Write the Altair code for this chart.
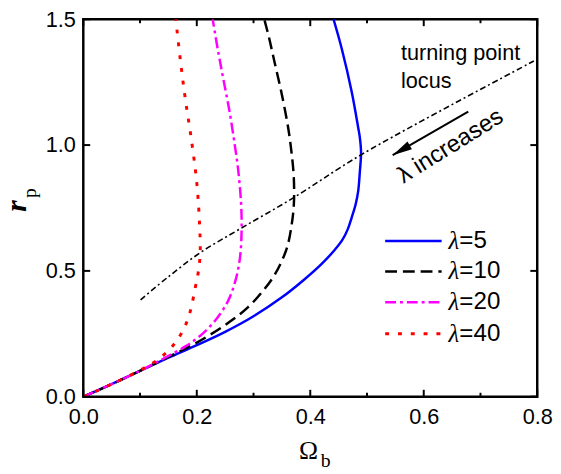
import altair as alt
import pandas as pd

# ---- data ----
x_l5 = [0, 0.05, 0.1, 0.15, 0.2, 0.25, 0.3, 0.35, 0.389, 0.421, 0.441, 0.456, 0.466, 0.473, 0.48, 0.4844, 0.4874, 0.4895, 0.4874, 0.4845, 0.473, 0.4556, 0.441]
y_l5 = [0, 0.05, 0.103, 0.155, 0.205, 0.258, 0.32, 0.395, 0.465, 0.53, 0.578, 0.621, 0.665, 0.712, 0.765, 0.816, 0.8945, 0.97, 1.03, 1.069, 1.212, 1.382, 1.5]

x_l10 = [0, 0.05, 0.1, 0.15, 0.2, 0.25, 0.29, 0.32, 0.336, 0.35, 0.36, 0.367, 0.371, 0.371, 0.367, 0.361, 0.35, 0.337, 0.327, 0.319]
y_l10 = [0, 0.05, 0.103, 0.158, 0.215, 0.285, 0.355, 0.43, 0.48, 0.54, 0.6, 0.68, 0.76, 0.87, 0.97, 1.07, 1.2, 1.33, 1.43, 1.5]

x_l20 = [0, 0.05, 0.1, 0.14, 0.18, 0.21, 0.235, 0.255, 0.268, 0.276, 0.279, 0.278, 0.273, 0.267, 0.258, 0.247, 0.237, 0.228]
y_l20 = [0, 0.05, 0.103, 0.15, 0.2, 0.25, 0.31, 0.38, 0.46, 0.55, 0.66, 0.77, 0.9, 1.0, 1.13, 1.26, 1.38, 1.5]

x_l40 = [0, 0.05, 0.1, 0.13, 0.155, 0.175, 0.188, 0.197, 0.203, 0.206, 0.205, 0.2, 0.19, 0.18, 0.172, 0.163]
y_l40 = [0, 0.05, 0.105, 0.145, 0.195, 0.26, 0.335, 0.43, 0.5, 0.57, 0.68, 0.85, 1.03, 1.18, 1.32, 1.5]

x_locus = [0.101, 0.149, 0.2065, 0.277, 0.3715, 0.49, 0.794]
y_locus = [0.385, 0.475, 0.573, 0.668, 0.792, 0.962, 1.334]

legend_labels = ["=5", "=10", "=20", "=40"]
x_ticks_major = [0, 0.2, 0.4, 0.6, 0.8]
x_ticks_minor = [0.1, 0.3, 0.5, 0.7]
y_ticks_major = [0, 0.5, 1.0, 1.5]

W, H = 460.6, 383

FONT = "Liberation Sans"
SERIF = "Liberation Serif"

xscale = alt.Scale(domain=[0, 0.8], nice=False, zero=False)
yscale = alt.Scale(domain=[0, 1.5], nice=False, zero=False)
xaxis = alt.Axis(values=x_ticks_major, format=".1f", title=None, grid=False, ticks=False, tickSize=0,
                 domain=False, labelFont=FONT, labelFontSize=22, labelColor="black", labelPadding=10,
                 labelFlush=False, labelOverlap=False, labelBound=False)
yaxis = alt.Axis(values=y_ticks_major, format=".1f", title=None, grid=False, ticks=False, tickSize=0,
                 domain=False, labelFont=FONT, labelFontSize=22, labelColor="black", labelPadding=8,
                 labelFlush=False, labelOverlap=False, labelBound=False)


def X(f="x"):
    return alt.X(f + ":Q", scale=xscale, axis=xaxis)


def Y(f="y"):
    return alt.Y(f + ":Q", scale=yscale, axis=yaxis)


styles = [
    dict(color="#0000ff", strokeWidth=2.5),
    dict(color="black", strokeWidth=2.5, strokeDash=[12, 6]),
    dict(color="#ff00ff", strokeWidth=2.5, strokeDash=[11, 4, 3, 4]),
    dict(color="#ff0000", strokeWidth=3, strokeDash=[4, 9]),
]
series = [(x_l5, y_l5), (x_l10, y_l10), (x_l20, y_l20), (x_l40, y_l40)]

layers = []
for (xs, ys), st in zip(series, styles):
    df = pd.DataFrame({"x": xs, "y": ys, "i": list(range(len(xs)))})
    layers.append(alt.Chart(df).mark_line(clip=True, interpolate="catmull-rom", **st)
                  .encode(x=X(), y=Y(), order="i:Q"))

dfl = pd.DataFrame({"x": x_locus, "y": y_locus, "i": list(range(len(x_locus)))})
layers.append(alt.Chart(dfl).mark_line(color="black", strokeWidth=1.6, strokeDash=[6, 3, 2, 3],
                                       interpolate="catmull-rom")
              .encode(x=X(), y=Y(), order="i:Q"))

# legend
leg_y = [0.6184, 0.4973, 0.375, 0.25]
for ly, st, lab in zip(leg_y, styles, legend_labels):
    d = pd.DataFrame({"x": [0.532], "x2": [0.6315], "y": [ly], "lab": [lab]})
    layers.append(alt.Chart(d).mark_rule(**st).encode(x=X(), x2="x2:Q", y=Y()))
    layers.append(alt.Chart(d).mark_text(text="λ", font=SERIF, fontStyle="italic", fontSize=25,
                                         align="left", baseline="middle", color="black")
                  .encode(x=alt.value(370.6), y=Y()))
    layers.append(alt.Chart(d).mark_text(font=FONT, fontSize=24.5, align="left", baseline="middle",
                                         color="black")
                  .encode(x=alt.value(381.6), y=Y(), text="lab:N"))

# annotations
dtp = pd.DataFrame({"x": [0.5598, 0.5598], "y": [1.337, 1.2266], "t": ["turning point", "locus"]})
layers.append(alt.Chart(dtp).mark_text(font=FONT, fontSize=22, align="left", baseline="alphabetic",
                                       color="black").encode(x=X(), y=Y(), text="t:N"))
dinc = pd.DataFrame({"x": [0.6472], "y": [0.995], "t": ["λ increases"]})
layers.append(alt.Chart(dinc).mark_text(font=FONT, fontSize=24, align="center", baseline="middle",
                                        angle=328, color="black").encode(x=X(), y=Y(), text="t:N"))
darr = pd.DataFrame({"x": [0.6784], "x2": [0.5452], "y": [1.1328], "y2": [0.9598]})
layers.append(alt.Chart(darr).mark_rule(color="black", strokeWidth=2)
              .encode(x=X(), x2="x2:Q", y=Y(), y2="y2:Q"))
dhead = pd.DataFrame({"x": [0.5452], "y": [0.9598]})
layers.append(alt.Chart(dhead).mark_point(shape="M0,0 L0.45,2 L-0.45,2 Z", size=400, angle=240,
                                          filled=True, color="black", opacity=1)
              .encode(x=X(), y=Y()))

# inward ticks
dxt = pd.DataFrame({"x": x_ticks_major})
dxm = pd.DataFrame({"x": x_ticks_minor})
dyt = pd.DataFrame({"y": y_ticks_major})
tk = dict(color="black", strokeWidth=2)
layers.append(alt.Chart(dxt).mark_rule(**tk).encode(x=X(), y=alt.value(H), y2=alt.value(H - 7)))
layers.append(alt.Chart(dxt).mark_rule(**tk).encode(x=X(), y=alt.value(0), y2=alt.value(7)))
layers.append(alt.Chart(dxm).mark_rule(**tk).encode(x=X(), y=alt.value(H), y2=alt.value(H - 4)))
layers.append(alt.Chart(dxm).mark_rule(**tk).encode(x=X(), y=alt.value(0), y2=alt.value(4)))
layers.append(alt.Chart(dyt).mark_rule(**tk).encode(y=Y(), x=alt.value(0), x2=alt.value(7)))
layers.append(alt.Chart(dyt).mark_rule(**tk).encode(y=Y(), x=alt.value(W), x2=alt.value(W - 7)))

# axis titles
dt = pd.DataFrame({"a": [0]})
layers.append(alt.Chart(dt).mark_text(text="r", font=SERIF, fontStyle="italic", fontWeight="bold",
                                      fontSize=30, angle=270, align="center", baseline="alphabetic",
                                      color="black").encode(x=alt.value(-58.4), y=alt.value(189.5)))
layers.append(alt.Chart(dt).mark_text(text="p", font=SERIF, fontSize=20, angle=270, align="center",
                                      baseline="alphabetic", color="black")
              .encode(x=alt.value(-48.4), y=alt.value(176.5)))
layers.append(alt.Chart(dt).mark_text(text="Ω", font=SERIF, fontSize=26, align="center",
                                      baseline="alphabetic", color="black")
              .encode(x=alt.value(228.6), y=alt.value(445.7)))
layers.append(alt.Chart(dt).mark_text(text="b", font=SERIF, fontSize=20, align="left",
                                      baseline="alphabetic", color="black")
              .encode(x=alt.value(241), y=alt.value(454)))

chart = alt.layer(*layers).properties(
    width=W, height=H,
    autosize=alt.AutoSizeParams(type="none"),
    padding={"left": 76.4, "top": 8, "right": 16, "bottom": 75},
).configure_view(stroke="black", strokeWidth=2.5)

chart.save("out.html", embed_options={"renderer": "svg", "actions": False})
